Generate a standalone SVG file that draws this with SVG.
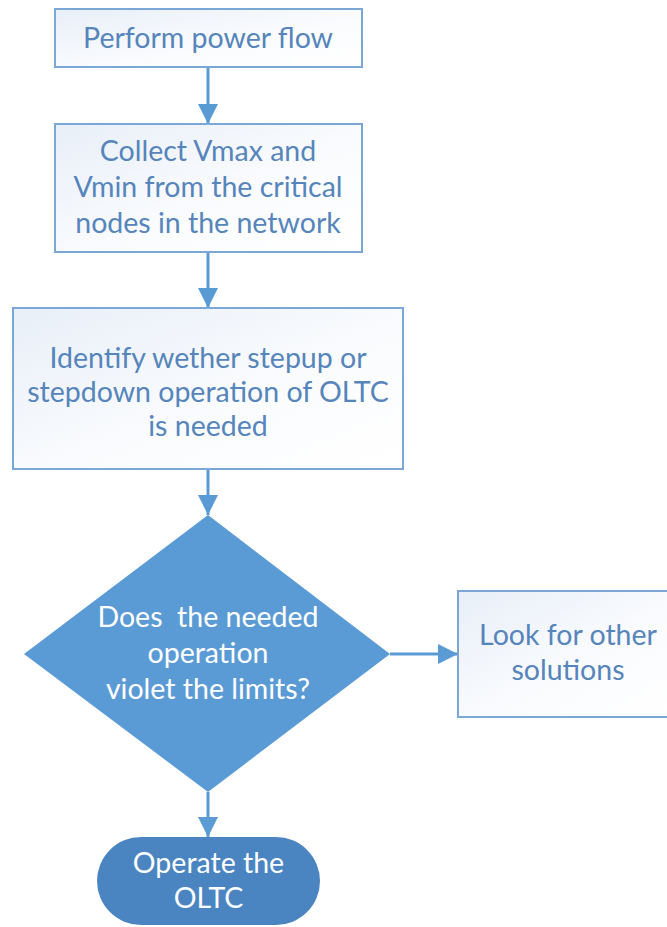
<svg xmlns="http://www.w3.org/2000/svg" width="667" height="927" viewBox="0 0 667 927">
<style>
.box{fill:url(#bg);stroke:#7ba7d7;stroke-width:2}
.bt{font-family:Lato,"Liberation Sans",sans-serif;font-size:28.5px;fill:#5585bb;text-anchor:middle}
.wt{font-family:Lato,"Liberation Sans",sans-serif;font-size:28.5px;fill:#ffffff;text-anchor:middle;white-space:pre}
.conn{stroke:#5b9bd5;stroke-width:3;fill:none;marker-end:url(#ah)}
</style>
<defs>
<linearGradient id="bg" x1="0" y1="0" x2="1" y2="1">
<stop offset="0" stop-color="#e8eff8"/>
<stop offset="0.6" stop-color="#fbfcfe"/>
<stop offset="1" stop-color="#ffffff"/>
</linearGradient>
<marker id="ah" markerUnits="userSpaceOnUse" markerWidth="22" markerHeight="22" refX="20" refY="10" orient="auto">
<path d="M0,0 L20,10 L0,20 Z" fill="#5b9bd5"/>
</marker>
</defs>
<rect width="667" height="927" fill="#ffffff"/>
<g id="connectors">
<line class="conn" x1="208" y1="67" x2="208" y2="124"/>
<line class="conn" x1="208" y1="252" x2="208" y2="308"/>
<line class="conn" x1="208" y1="470" x2="208" y2="515"/>
<line class="conn" x1="390" y1="654" x2="458" y2="654"/>
<line class="conn" x1="208" y1="792" x2="208" y2="837"/>
</g>
<g id="n1">
<rect class="box" x="55" y="9" width="307" height="58"/>
<text class="bt" x="208" y="48">Perform power flow</text>
</g>
<g id="n2">
<rect class="box" x="55" y="124" width="307" height="128"/>
<text class="bt" x="208" y="161">Collect Vmax and</text>
<text class="bt" x="208" y="197">Vmin from the critical</text>
<text class="bt" x="208" y="233">nodes in the network</text>
</g>
<g id="n3">
<rect class="box" x="13" y="308" width="390" height="161"/>
<text class="bt" x="208" y="368">Identify wether stepup or</text>
<text class="bt" x="208" y="402">stepdown operation of OLTC</text>
<text class="bt" x="208" y="436">is needed</text>
</g>
<g id="n4">
<polygon points="208,515 390,654 208,792 24,654" fill="#5b9bd5"/>
<text class="wt" x="208" y="627" xml:space="preserve">Does  the needed</text>
<text class="wt" x="208" y="663">operation</text>
<text class="wt" x="208" y="699">violet the limits?</text>
</g>
<g id="n5">
<rect class="box" x="458" y="591" width="222" height="126"/>
<text class="bt" x="568" y="645">Look for other</text>
<text class="bt" x="568" y="680">solutions</text>
</g>
<g id="n6">
<rect x="97" y="837" width="223" height="88" rx="44" ry="44" fill="#4a85c2"/>
<text class="wt" x="208.5" y="873">Operate the</text>
<text class="wt" x="208.5" y="908">OLTC</text>
</g>
</svg>
